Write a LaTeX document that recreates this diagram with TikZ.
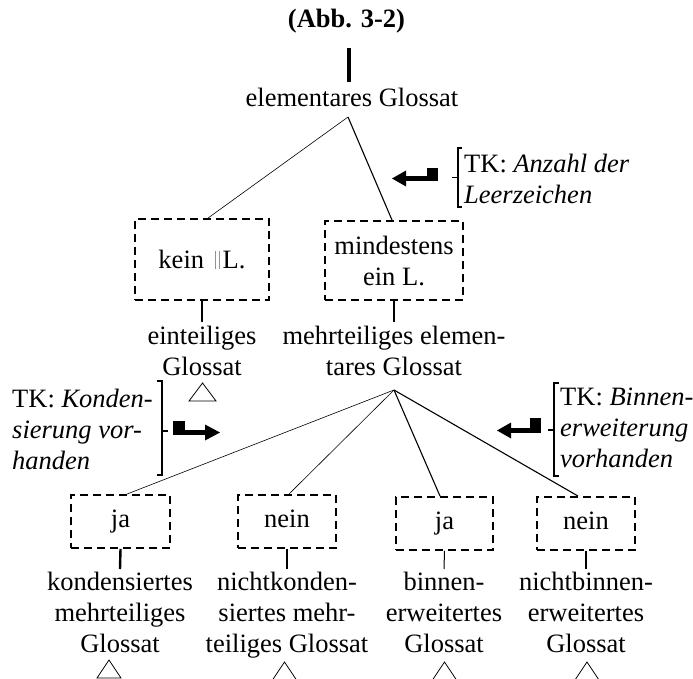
\documentclass[tikz,border=0pt]{standalone}
\usepackage{fontspec}
\setmainfont{Liberation Serif}
\usetikzlibrary{calc}
\newcommand{\dfont}{\fontsize{26.5}{31}\selectfont}
\newcommand{\gap}{\textcolor{gray!85}{\rule{0.8pt}{18pt}\hspace{3pt}\rule{0.8pt}{18pt}}}
\begin{document}
\begin{tikzpicture}[x=1pt,y=-1pt,
  every node/.style={inner sep=0pt, font=\dfont},
  lbl/.style={align=center, anchor=north},
  tk/.style={align=left, anchor=north west},
  dbox/.style={draw, line width=1.9pt, dash pattern=on 8pt off 5pt, align=center},
  thinbr/.style={line width=0.6pt},
  thickbr/.style={line width=1.1pt},
  stem/.style={line width=2.4pt},
  thinstem/.style={line width=1pt},
  brk/.style={line width=1.8pt},
  tri/.style={line width=0.8pt}]
\useasboundingbox (0,0) rectangle (693,679);
\clip (0,0) rectangle (693,679);

% heading and root
\node[font=\dfont\bfseries, anchor=base] (title) at (346.5,28) {(Abb. 3-2)};
\coordinate (stemtop) at (349,48);
\coordinate (stembot) at (349,82);
\draw[line width=3.5pt] (stemtop) -- (stembot);
\node[anchor=base] (root) at (352,107) {elementares Glossat};
\coordinate (apex1) at (348,117);

% first division
\node[dbox, minimum width=134pt, minimum height=81pt] (kein) at (202,259.5)
  {kein\hspace{11pt}\gap\hspace{3pt}L.};
\node[dbox, minimum width=138pt, minimum height=79pt] (mind) at (394,260.5)
  {mindestens\\ein L.};
\draw[thinbr] (apex1) -- ([xshift=6pt]kein.north);
\draw[thickbr] (apex1) -- ([xshift=-2pt]mind.north);

\node[lbl] (einteil) at (202,326) {einteiliges\\Glossat};
\node[lbl] (mehrteil) at (394,326) {mehrteiliges elemen-\\tares Glossat};
\draw[stem] (kein.south) -- ([yshift=4pt]einteil.north);
\draw[stem] (mind.south) -- ([yshift=4pt]mehrteil.north);
\draw[tri] (202.5,383) -- (189,401) -- (216,401) -- cycle;

% criterion: number of blanks
\node[tk] (tkA) at (464,154) {TK: \textit{Anzahl der}\\\textit{Leerzeichen}};
\draw[brk] (462,148) -- (458,148) -- (458,207) -- (462,207);
\draw[brk] (458,177.5) -- (452,177.5);
\fill (427,168) rectangle (438,181);
\fill (404,176) rectangle (428,181);
\fill (392,178.5) -- (406,170.5) -- (406,186.5) -- cycle;

% second division
\coordinate (apex2) at (394,390);
\node[dbox, minimum width=99pt, minimum height=53pt] (b1) at (120.5,521.5) {\strut ja};
\node[dbox, minimum width=98pt, minimum height=53pt] (b2) at (287,521.5) {\strut nein};
\node[dbox, minimum width=97pt, minimum height=53pt] (b3) at (444.5,523.5) {\strut ja};
\node[dbox, minimum width=98pt, minimum height=53pt] (b4) at (586,523.5) {\strut nein};
\draw[thinbr] (apex2) -- ([xshift=6.5pt]b1.north);
\draw[thinbr] (apex2) -- ([xshift=2pt]b2.north);
\draw[thickbr] (apex2) -- ([xshift=-4.5pt]b3.north);
\draw[thickbr] (apex2) -- ([xshift=-8pt]b4.north);

\node[lbl] (l1) at (120,572) {kondensiertes\\mehrteiliges\\Glossat};
\node[lbl] (l2) at (287,572) {nichtkonden-\\siertes mehr-\\teiliges Glossat};
\node[lbl] (l3) at (444,572) {binnen-\\erweitertes\\Glossat};
\node[lbl] (l4) at (586,572) {nichtbinnen-\\erweitertes\\Glossat};
\draw[stem] (b1.south) -- ([yshift=3pt]l1.north);
\draw[stem] (b2.south) -- ([yshift=3pt]l2.north);
\draw[thinstem] (b3.south) -- ([yshift=3pt]l3.north);
\draw[stem] (b4.south) -- ([yshift=3pt]l4.north);

\draw[tri] (109,660) -- (97,678) -- (121,678) -- cycle;
\draw[tri] (284.5,662) -- (272.5,680) -- (296.5,680) -- cycle;
\draw[tri] (444.5,662) -- (432.5,680) -- (456.5,680) -- cycle;
\draw[tri] (587,662) -- (575,680) -- (599,680) -- cycle;

% criterion: condensation
\node[tk] (tkK) at (12,389) {TK: \textit{Konden-}\\\textit{sierung vor-}\\\textit{handen}};
\draw[brk] (157,381) -- (162,381) -- (162,475) -- (157,475);
\draw[brk] (162,431) -- (168,431);
\fill (173,421) rectangle (185,435);
\fill (184,430) rectangle (207,435);
\fill (220,432.5) -- (205,424.5) -- (205,440.5) -- cycle;

% criterion: internal extension
\node[tk] (tkB) at (560,388) {TK: \textit{Binnen-}\\\textit{erweiterung}\\\textit{vorhanden}};
\draw[brk] (559,383) -- (554,383) -- (554,476) -- (559,476);
\draw[brk] (554,430) -- (548,430);
\fill (530,418) rectangle (541,433);
\fill (510,428) rectangle (531,433);
\fill (497,430.5) -- (511,422.5) -- (511,438.5) -- cycle;
\end{tikzpicture}
\end{document}
